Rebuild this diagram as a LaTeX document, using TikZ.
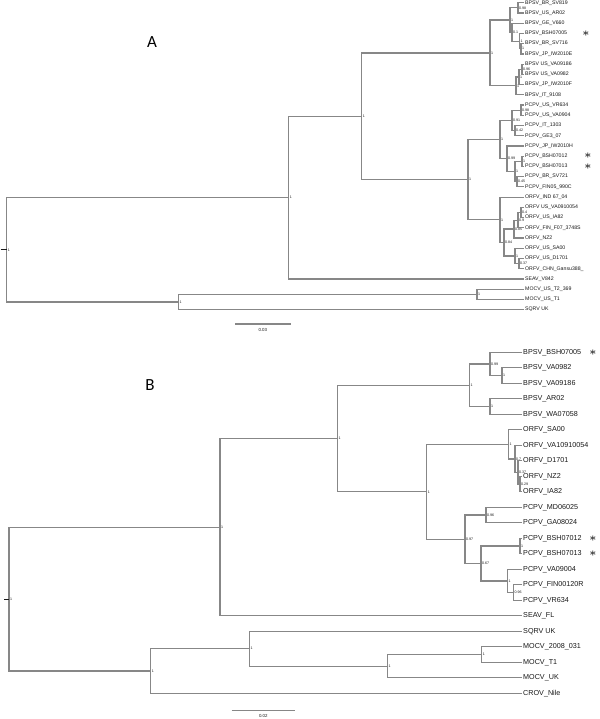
\documentclass[tikz,border=0pt]{standalone}
\usepackage{fontspec}
\setmainfont{Liberation Sans}
\newfontfamily\tagfont{Carlito}
\usetikzlibrary{positioning}
\definecolor{branchgray}{RGB}{135,135,135}
\definecolor{txtgray}{RGB}{25,25,25}

\begin{document}
\begin{tikzpicture}[x=0.5pt, y=-0.5pt,
  branch/.style={draw=branchgray, line width=0.6pt},
  leafa/.style={anchor=west, inner sep=0.4pt, text=txtgray, font=\fontsize{2.6}{3}\selectfont},
  leafb/.style={anchor=west, inner sep=0.4pt, text=txtgray, font=\fontsize{3.6}{4}\selectfont},
  supp/.style={anchor=west, inner sep=0.4pt, text=txtgray, font=\fontsize{1.8}{2}\selectfont},
  star/.style={inner sep=0pt, font=\fontsize{6}{6}\selectfont},
  tag/.style={inner sep=0pt, font=\tagfont\fontsize{8.5}{9}\selectfont},
  scalelbl/.style={inner sep=0pt, text=txtgray, font=\fontsize{2.2}{2.5}\selectfont}
]
\useasboundingbox (0,0) rectangle (600,719);

% ---- tree A ----
\node[tag] (tagA) at (152,42) {A};
\node[leafa] (la1) at (524,2.7) {BPSV\_BR\_SV819};
\node[leafa] (la2) at (524,12.9) {BPSV\_US\_AR02};
\node[leafa] (la3) at (524,23.2) {BPSV\_GE\_V660};
\node[leafa] (la4) at (524,33.4) {BPSV\_BSH07005};
\node[leafa] (la5) at (524,43.6) {BPSV\_BR\_SV716};
\node[leafa] (la6) at (524,53.9) {BPSV\_JP\_IW2010E};
\node[leafa] (la7) at (524,64.1) {BPSV US\_VA09186};
\node[leafa] (la8) at (524,74.3) {BPSV US\_VA0982};
\node[leafa] (la9) at (524,84.5) {BPSV\_JP\_IW2010F};
\node[leafa] (la10) at (524,94.8) {BPSV\_IT\_9108};
\node[leafa] (la11) at (524,105.0) {PCPV\_US\_VR634};
\node[leafa] (la12) at (524,115.2) {PCPV\_US\_VA0904};
\node[leafa] (la13) at (524,125.5) {PCPV\_IT\_1303};
\node[leafa] (la14) at (524,135.7) {PCPV\_GE3\_07};
\node[leafa] (la15) at (524,145.9) {PCPV\_JP\_IW2010H};
\node[leafa] (la16) at (524,156.2) {PCPV\_BSH07012};
\node[leafa] (la17) at (524,166.4) {PCPV\_BSH07013};
\node[leafa] (la18) at (524,176.6) {PCPV\_BR\_SV721};
\node[leafa] (la19) at (524,186.8) {PCPV\_FIN05\_990C};
\node[leafa] (la20) at (524,197.1) {ORFV\_IND 67\_04};
\node[leafa] (la21) at (524,207.3) {ORFV US\_VA0910054};
\node[leafa] (la22) at (524,217.5) {ORFV\_US\_IA82};
\node[leafa] (la23) at (524,227.8) {ORFV\_FIN\_F07\_3748S};
\node[leafa] (la24) at (524,238.0) {ORFV\_NZ2};
\node[leafa] (la25) at (524,248.2) {ORFV\_US\_SA00};
\node[leafa] (la26) at (524,258.5) {ORFV\_US\_D1701};
\node[leafa] (la27) at (524,268.7) {ORFV\_CHN\_Gansu388\_};
\node[leafa] (la28) at (524,278.9) {SEAV\_V842};
\node[leafa] (la29) at (524,289.1) {MOCV\_US\_T2\_369};
\node[leafa] (la30) at (524,299.4) {MOCV\_US\_T1};
\node[leafa] (la31) at (524,309.6) {SQRV UK};
\node[star] (sa1) at (586,33.4) {$\ast$};
\node[star] (sa2) at (588,156.2) {$\ast$};
\node[star] (sa3) at (588,166.4) {$\ast$};

\node[supp] (na1) at (518,7.8) {0.98};
\node[supp] (na2) at (521,48.75) {1};
\node[supp] (na3) at (519.5,41.1) {1};
\node[supp] (na4) at (512,32.2) {0.1};
\node[supp] (na5) at (510,20) {1};
\node[supp] (na6) at (522,69.2) {0.96};
\node[supp] (na7) at (519,76.9) {1};
\node[supp] (na8) at (516,85.8) {1};
\node[supp] (na9) at (490,52.9) {1};
\node[supp] (na10) at (521,110.1) {0.98};
\node[supp] (na11) at (515,130.6) {0.42};
\node[supp] (na12) at (512,120.35) {0.91};
\node[supp] (na13) at (522,161.3) {1};
\node[supp] (na14) at (517,181.7) {0.45};
\node[supp] (na15) at (515,171.5) {1};
\node[supp] (na16) at (507,158.7) {0.99};
\node[supp] (na17) at (500,139.5) {1};
\node[supp] (na18) at (521,212.4) {0.4};
\node[supp] (na19) at (518,220.1) {0.9};
\node[supp] (na20) at (514,229.05) {0.85};
\node[supp] (na21) at (519,263.6) {0.37};
\node[supp] (na22) at (515,255.9) {1};
\node[supp] (na23) at (504,242.5) {0.84};
\node[supp] (na24) at (500,219.8) {1};
\node[supp] (na25) at (468,179.6) {1};
\node[supp] (na26) at (361.7,116.3) {1};
\node[supp] (na27) at (288.7,197.6) {1};
\node[supp] (na28) at (477,294.3) {1};
\node[supp] (na29) at (178.3,302) {1};
\node[supp] (na30) at (6.7,249.8) {1};
\coordinate (ra) at (0.5,249.8);

\draw[branch] (la1.west) -| (na1.west) |- (la2.west);
\draw[branch] (la5.west) -| (na2.west) |- (la6.west);
\draw[branch] (la4.west) -| (na3.west) |- (na2.west);
\draw[branch] (la3.west) -| (na4.west) |- (na3.west);
\draw[branch] (na1.west) -| (na5.west) |- (na4.west);
\draw[branch] (la7.west) -| (na6.west) |- (la8.west);
\draw[branch] (na6.west) -| (na7.west) |- (la9.west);
\draw[branch] (na7.west) -| (na8.west) |- (la10.west);
\draw[branch] (na5.west) -| (na9.west) |- (na8.west);
\draw[branch] (la11.west) -| (na10.west) |- (la12.west);
\draw[branch] (la13.west) -| (na11.west) |- (la14.west);
\draw[branch] (na10.west) -| (na12.west) |- (na11.west);
\draw[branch] (la16.west) -| (na13.west) |- (la17.west);
\draw[branch] (la18.west) -| (na14.west) |- (la19.west);
\draw[branch] (na13.west) -| (na15.west) |- (na14.west);
\draw[branch] (la15.west) -| (na16.west) |- (na15.west);
\draw[branch] (na12.west) -| (na17.west) |- (na16.west);
\draw[branch] (la21.west) -| (na18.west) |- (la22.west);
\draw[branch] (na18.west) -| (na19.west) |- (la23.west);
\draw[branch] (na19.west) -| (na20.west) |- (la24.west);
\draw[branch] (la26.west) -| (na21.west) |- (la27.west);
\draw[branch] (la25.west) -| (na22.west) |- (na21.west);
\draw[branch] (na20.west) -| (na23.west) |- (na22.west);
\draw[branch] (la20.west) -| (na24.west) |- (na23.west);
\draw[branch] (na17.west) -| (na25.west) |- (na24.west);
\draw[branch] (na9.west) -| (na26.west) |- (na25.west);
\draw[branch] (na26.west) -| (na27.west) |- (la28.west);
\draw[branch] (la29.west) -| (na28.west) |- (la30.west);
\draw[branch] (na28.west) -| (na29.west) |- (la31.west);
\draw[branch] (na27.west) -| (na30.west) |- (na29.west);
\draw[branch, draw=txtgray] (ra) -- (na30.west);

\coordinate (sca1) at (235,324);
\coordinate (sca2) at (290.7,324);
\draw[branch] (sca1) -- (sca2);
\node[scalelbl] (scla) at (262.8,329.5) {0.03};

% ---- tree B ----
\node[tag] (tagB) at (150,385) {B};
\node[leafb] (lb1) at (522,352.3) {BPSV\_BSH07005};
\node[leafb] (lb2) at (522,367.8) {BPSV\_VA0982};
\node[leafb] (lb3) at (522,383.3) {BPSV\_VA09186};
\node[leafb] (lb4) at (522,398.8) {BPSV\_AR02};
\node[leafb] (lb5) at (522,414.3) {BPSV\_WA07058};
\node[leafb] (lb6) at (522,429.8) {ORFV\_SA00};
\node[leafb] (lb7) at (522,445.3) {ORFV\_VA10910054};
\node[leafb] (lb8) at (522,460.8) {ORFV\_D1701};
\node[leafb] (lb9) at (522,476.3) {ORFV\_NZ2};
\node[leafb] (lb10) at (522,491.8) {ORFV\_IA82};
\node[leafb] (lb11) at (522,507.3) {PCPV\_MD06025};
\node[leafb] (lb12) at (522,522.8) {PCPV\_GA08024};
\node[leafb] (lb13) at (522,538.3) {PCPV\_BSH07012};
\node[leafb] (lb14) at (522,553.8) {PCPV\_BSH07013};
\node[leafb] (lb15) at (522,569.3) {PCPV\_VA09004};
\node[leafb] (lb16) at (522,584.8) {PCPV\_FIN00120R};
\node[leafb] (lb17) at (522,600.3) {PCPV\_VR634};
\node[leafb] (lb18) at (522,615.8) {SEAV\_FL};
\node[leafb] (lb19) at (522,631.3) {SQRV UK};
\node[leafb] (lb20) at (522,646.8) {MOCV\_2008\_031};
\node[leafb] (lb21) at (522,662.3) {MOCV\_T1};
\node[leafb] (lb22) at (522,677.8) {MOCV\_UK};
\node[leafb] (lb23) at (522,693.3) {CROV\_Nile};
\node[star] (sb1) at (593,352.3) {$\ast$};
\node[star] (sb2) at (593,538.3) {$\ast$};
\node[star] (sb3) at (593,553.8) {$\ast$};

\node[supp] (nb1) at (502,375.55) {1};
\node[supp] (nb2) at (490,363.9) {0.99};
\node[supp] (nb3) at (490,406.55) {1};
\node[supp] (nb4) at (469.3,385.2) {1};
\node[supp] (nb5) at (520,484.05) {0.29};
\node[supp] (nb6) at (518,472.4) {0.37};
\node[supp] (nb7) at (515,458.9) {0.7};
\node[supp] (nb8) at (508.3,444.3) {1};
\node[supp] (nb9) at (486,515.05) {0.96};
\node[supp] (nb10) at (520,546.05) {1};
\node[supp] (nb11) at (513.3,592.55) {0.96};
\node[supp] (nb12) at (507.3,580.9) {1};
\node[supp] (nb13) at (481,563.5) {0.67};
\node[supp] (nb14) at (465,539.3) {0.97};
\node[supp] (nb15) at (426.7,491.8) {1};
\node[supp] (nb16) at (337.3,438.5) {1};
\node[supp] (nb17) at (220,527.15) {1};
\node[supp] (nb18) at (481.7,654.55) {1};
\node[supp] (nb19) at (387.3,666.2) {1};
\node[supp] (nb20) at (249.3,648.75) {1};
\node[supp] (nb21) at (150.7,671) {1};
\node[supp] (nb22) at (9,599.1) {1};
\coordinate (rb) at (4,599.1);

\draw[branch] (lb2.west) -| (nb1.west) |- (lb3.west);
\draw[branch] (lb1.west) -| (nb2.west) |- (nb1.west);
\draw[branch] (lb4.west) -| (nb3.west) |- (lb5.west);
\draw[branch] (nb2.west) -| (nb4.west) |- (nb3.west);
\draw[branch] (lb9.west) -| (nb5.west) |- (lb10.west);
\draw[branch] (lb8.west) -| (nb6.west) |- (nb5.west);
\draw[branch] (lb7.west) -| (nb7.west) |- (nb6.west);
\draw[branch] (lb6.west) -| (nb8.west) |- (nb7.west);
\draw[branch] (lb11.west) -| (nb9.west) |- (lb12.west);
\draw[branch] (lb13.west) -| (nb10.west) |- (lb14.west);
\draw[branch] (lb16.west) -| (nb11.west) |- (lb17.west);
\draw[branch] (lb15.west) -| (nb12.west) |- (nb11.west);
\draw[branch] (nb10.west) -| (nb13.west) |- (nb12.west);
\draw[branch] (nb9.west) -| (nb14.west) |- (nb13.west);
\draw[branch] (nb8.west) -| (nb15.west) |- (nb14.west);
\draw[branch] (nb4.west) -| (nb16.west) |- (nb15.west);
\draw[branch] (nb16.west) -| (nb17.west) |- (lb18.west);
\draw[branch] (lb20.west) -| (nb18.west) |- (lb21.west);
\draw[branch] (nb18.west) -| (nb19.west) |- (lb22.west);
\draw[branch] (lb19.west) -| (nb20.west) |- (nb19.west);
\draw[branch] (nb20.west) -| (nb21.west) |- (lb23.west);
\draw[branch] (nb17.west) -| (nb22.west) |- (nb21.west);
\draw[branch, draw=txtgray] (rb) -- (nb22.west);

\coordinate (scb1) at (231.7,710.7);
\coordinate (scb2) at (295,710.7);
\draw[branch] (scb1) -- (scb2);
\node[scalelbl] (sclb) at (263.3,716.3) {0.02};

\end{tikzpicture}
\end{document}
